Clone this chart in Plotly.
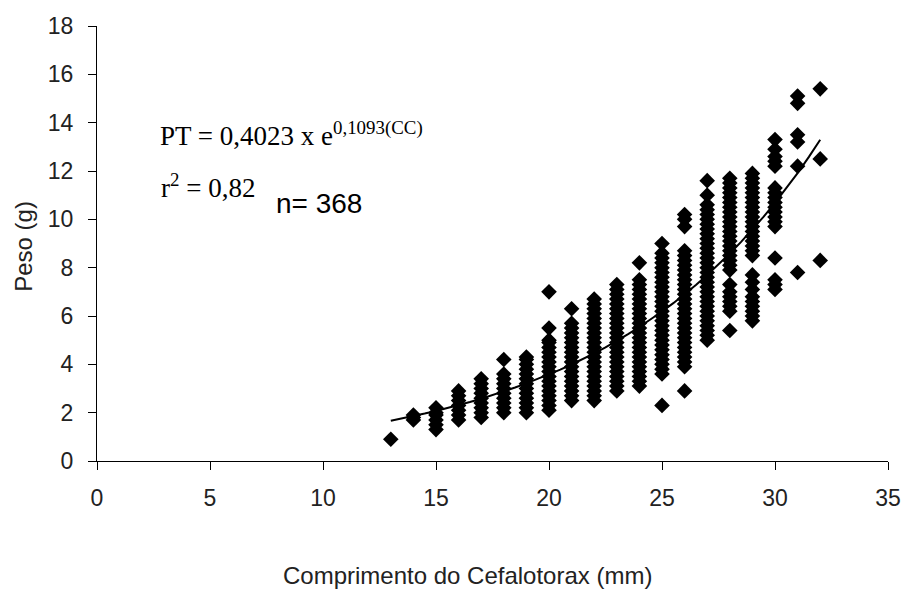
import math
import plotly.graph_objects as go

# Comprimento do cefalotórax (mm) columns and observed weights (g)
y13 = [0.9]
y14 = [1.7, 1.8, 1.9]
y15 = [1.3, 1.5, 1.7, 1.9, 2.0, 2.2]
y16 = [1.7, 1.9, 2.1, 2.3, 2.5, 2.7, 2.9]
y17 = [1.8, 2.0, 2.2, 2.4, 2.6, 2.8, 3.0, 3.2, 3.4]
y18 = [2.0, 2.2, 2.4, 2.6, 2.8, 3.0, 3.2, 3.4, 3.6, 4.2]
y19 = [2.0, 2.2, 2.4, 2.6, 2.8, 3.0, 3.2, 3.4, 3.6, 3.8, 4.0, 4.2, 4.3]
y20 = [2.1, 2.3, 2.5, 2.7, 2.9, 3.1, 3.3, 3.5, 3.7, 3.9, 4.1, 4.3, 4.5, 4.7, 4.9, 5.0, 5.5, 7.0]
y21 = [2.5, 2.7, 2.9, 3.1, 3.3, 3.5, 3.7, 3.9, 4.1, 4.3, 4.5, 4.7, 4.9, 5.1, 5.3, 5.5, 5.7, 6.3]
y22 = [2.5, 2.7, 2.9, 3.1, 3.3, 3.5, 3.7, 3.9, 4.1, 4.3, 4.5, 4.7, 4.9, 5.1, 5.3, 5.5, 5.7, 5.9, 6.1, 6.3, 6.5, 6.7]
y23 = [2.9, 3.1, 3.3, 3.5, 3.7, 3.9, 4.1, 4.3, 4.5, 4.7, 4.9, 5.1, 5.3, 5.5, 5.7, 5.9, 6.1, 6.3, 6.5, 6.7, 6.9, 7.1, 7.3]
y24 = [3.1, 3.3, 3.5, 3.7, 3.9, 4.1, 4.3, 4.5, 4.7, 4.9, 5.1, 5.3, 5.5, 5.7, 5.9, 6.1, 6.3, 6.5, 6.7, 6.9, 7.1, 7.3, 7.5, 8.2]
y25 = [2.3, 3.6, 3.8, 4.0, 4.2, 4.4, 4.6, 4.8, 5.0, 5.2, 5.4, 5.6, 5.8, 6.0, 6.2, 6.4, 6.6, 6.8, 7.0, 7.2, 7.4, 7.6, 7.8, 8.0, 8.2, 8.4, 8.6, 9.0]
y26 = [2.9, 3.9, 4.1, 4.3, 4.5, 4.7, 4.9, 5.1, 5.3, 5.5, 5.7, 5.9, 6.1, 6.3, 6.5, 6.7, 6.9, 7.1, 7.3, 7.5, 7.7, 7.9, 8.1, 8.3, 8.5, 8.7, 9.7, 10.0, 10.2]
y27 = [5.0, 5.2, 5.4, 5.6, 5.8, 6.0, 6.2, 6.4, 6.6, 6.8, 7.0, 7.2, 7.4, 7.6, 7.8, 8.0, 8.2, 8.4, 8.6, 8.8, 9.0, 9.2, 9.4, 9.6, 9.8, 10.0, 10.2, 10.4, 10.6, 11.0, 11.6]
y28 = [5.4, 6.2, 6.4, 6.6, 6.8, 7.0, 7.3, 7.9, 8.1, 8.3, 8.5, 8.7, 8.9, 9.1, 9.3, 9.5, 9.7, 9.9, 10.1, 10.3, 10.5, 10.7, 10.9, 11.1, 11.3, 11.5, 11.7]
y29 = [5.8, 6.0, 6.2, 6.4, 6.6, 6.8, 7.1, 7.4, 7.7, 8.5, 8.7, 8.9, 9.1, 9.3, 9.5, 9.7, 9.9, 10.1, 10.3, 10.5, 10.7, 10.9, 11.1, 11.3, 11.5, 11.7, 11.9]
y30 = [7.1, 7.3, 7.5, 8.4, 9.7, 9.9, 10.1, 10.3, 10.5, 10.7, 10.9, 11.1, 11.3, 12.2, 12.4, 12.6, 12.9, 13.3]
y31 = [7.8, 12.2, 13.2, 13.5, 14.8, 15.1]
y32 = [8.3, 12.5, 15.4]

cc_values = list(range(13, 33))
peso_columns = [y13, y14, y15, y16, y17, y18, y19, y20, y21, y22,
                y23, y24, y25, y26, y27, y28, y29, y30, y31, y32]

# Exponential fit: PT = 0.4023 * e^(0.1093 * CC)
fit_a = 0.4023
fit_b = 0.1093
fit_x = [13 + 0.5 * i for i in range(39)]

x_ticks = [0, 5, 10, 15, 20, 25, 30, 35]
y_ticks = [0, 2, 4, 6, 8, 10, 12, 14, 16, 18]

xs, ys = [], []
for c, col in zip(cc_values, peso_columns):
    for v in col:
        xs.append(c)
        ys.append(v)

fit_y = [fit_a * math.exp(fit_b * x) for x in fit_x]

fig = go.Figure()
fig.add_trace(go.Scatter(x=xs, y=ys, mode="markers",
                         marker=dict(symbol="diamond", size=12, color="black",
                                     line=dict(width=0)),
                         showlegend=False))
fig.add_trace(go.Scatter(x=fit_x, y=fit_y, mode="lines",
                         line=dict(color="black", width=2), showlegend=False))

sans = "Liberation Sans, Arial"
serif = "Liberation Serif, Times New Roman"
tickfont = dict(family=sans, size=23, color="#222")
fig.update_layout(
    width=901, height=592,
    margin=dict(l=97, r=13, t=26, b=131, autoexpand=False),
    paper_bgcolor="white", plot_bgcolor="white",
    font=dict(family=sans, color="black"),
    xaxis=dict(range=[0, 35], tickvals=x_ticks, ticks="outside", ticklen=8,
               tickwidth=1, tickcolor="black", showline=True, linecolor="black",
               linewidth=1, showgrid=False, zeroline=False, tickfont=tickfont,
               ticklabelstandoff=8, automargin=False),
    yaxis=dict(range=[0, 18], tickvals=y_ticks, ticks="outside", ticklen=8,
               tickwidth=1, tickcolor="black", showline=True, linecolor="black",
               linewidth=1, showgrid=False, zeroline=False, tickfont=tickfont,
               ticklabelstandoff=10, automargin=False),
)

# axis titles placed as annotations (the original is not centred on the axis)
fig.add_annotation(x=0.468, y=-0.2989, xref="paper", yref="paper",
                   xanchor="center", yanchor="bottom", showarrow=False,
                   text="Comprimento do Cefalotorax (mm)",
                   font=dict(family=sans, size=24, color="#222"))
fig.add_annotation(x=-0.094, y=0.494, xref="paper", yref="paper",
                   xanchor="center", yanchor="middle", showarrow=False,
                   textangle=-90, text="Peso (g)",
                   font=dict(family=sans, size=24, color="#222"))

fig.add_annotation(x=2.7, y=13.52, xref="x", yref="y", xanchor="left", yanchor="middle",
                   showarrow=False,
                   text="PT = 0,4023 x e<sup>0,1093(CC)</sup>",
                   font=dict(family=serif, size=27, color="black"))
fig.add_annotation(x=2.75, y=11.4, xref="x", yref="y", xanchor="left", yanchor="middle",
                   showarrow=False,
                   text="r<sup>2</sup> = 0,82",
                   font=dict(family=serif, size=27, color="black"))
fig.add_annotation(x=7.85, y=10.67, xref="x", yref="y", xanchor="left", yanchor="middle",
                   showarrow=False,
                   text="n= 368",
                   font=dict(family=sans, size=28, color="black"))

fig.write_html("out.html")
